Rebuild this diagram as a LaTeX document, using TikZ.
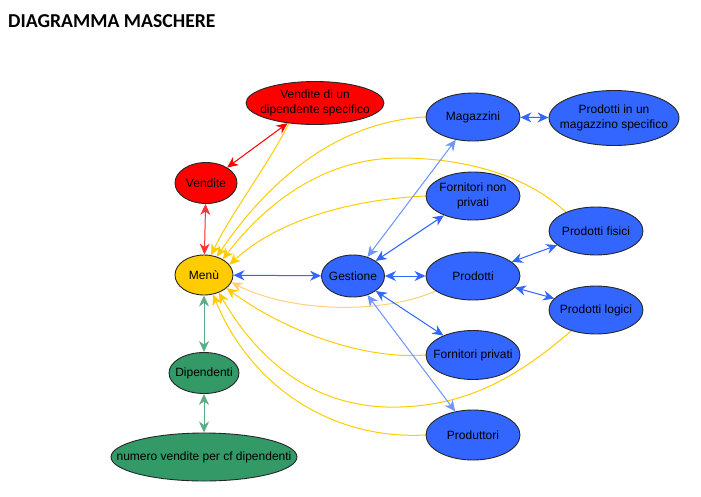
\documentclass[tikz,border=0pt]{standalone}
\usepackage{fontspec}
\setmainfont{Liberation Sans}
\newfontfamily\titlefont{Carlito}
\usetikzlibrary{shapes.geometric,arrows.meta,backgrounds}
\definecolor{cred}{HTML}{FF0000}
\definecolor{cyel}{HTML}{FFCC00}
\definecolor{cgreen}{HTML}{339966}
\definecolor{cblue}{HTML}{3366FF}
\definecolor{lred}{HTML}{FF3333}
\definecolor{lgreen}{HTML}{5CAD85}
\definecolor{lblue}{HTML}{6E94FF}
\definecolor{yline}{HTML}{FFCC00}
\definecolor{fyline}{HTML}{FFCF7A}
\begin{document}
\begin{tikzpicture}[x=1pt,y=-1pt,
  ell/.style={ellipse, draw=black!85, line width=0.9pt, inner sep=0pt},
  txt/.style={label={[align=center, font=\fontsize{12}{14.5}\selectfont, text=black, inner sep=0pt]center:#1}},
  rednode/.style={ell, fill=cred},
  yelnode/.style={ell, fill=cyel},
  grnnode/.style={ell, fill=cgreen},
  blunode/.style={ell, fill=cblue},
  arr/.style={line width=1pt, {Stealth[length=11pt,width=10pt,inset=3.5pt]}-{Stealth[length=11pt,width=10pt,inset=3.5pt]}},
  yarr/.style={draw=yline, line width=1pt, -{Stealth[length=11pt,width=10pt,inset=3.5pt]}, fill=none},
]
\useasboundingbox (0,0) rectangle (701,496);

\node[anchor=base west, font=\titlefont\bfseries\fontsize{19.7}{22}\selectfont, inner sep=0pt] (title) at (8,27) {DIAGRAMMA MASCHERE};

\node[rednode, minimum width=138pt, minimum height=43pt, txt={Vendite di un\\dipendente specifico}] (vdds) at (315,103) {};
\node[rednode, minimum width=62pt, minimum height=41pt, txt={Vendite}] (vend) at (206,183) {};
\node[yelnode, minimum width=58pt, minimum height=40pt, txt={Menù}] (menu) at (204,275) {};
\node[grnnode, minimum width=70pt, minimum height=41pt, txt={Dipendenti}] (dip) at (204,373) {};
\node[grnnode, minimum width=186pt, minimum height=48pt, txt={numero vendite per cf dipendenti}] (num) at (204,457) {};
\node[blunode, minimum width=63pt, minimum height=42pt, txt={Gestione}] (gest) at (353,276) {};
\node[blunode, minimum width=94pt, minimum height=48pt, txt={Magazzini}] (mag) at (473,117) {};
\node[blunode, minimum width=130pt, minimum height=55pt, txt={Prodotti in un\\magazzino specifico}] (pms) at (614,118) {};
\node[blunode, minimum width=94pt, minimum height=48pt, txt={Fornitori non\\privati}] (fnp) at (473,196) {};
\node[blunode, minimum width=94pt, minimum height=48pt, txt={Prodotti fisici}] (pf) at (596,231) {};
\node[blunode, minimum width=94pt, minimum height=48pt, txt={Prodotti}] (prod) at (473,276) {};
\node[blunode, minimum width=94pt, minimum height=48pt, txt={Prodotti logici}] (pl) at (596,310) {};
\node[blunode, minimum width=94pt, minimum height=49pt, txt={Fornitori privati}] (fp) at (473,355) {};
\node[blunode, minimum width=94pt, minimum height=50pt, txt={Produttori}] (produt) at (473,435) {};

\begin{pgfonlayer}{background}
% yellow curves to Menu
\draw[yarr] (vdds.218) .. controls (268,165) and (230,215) .. (menu.70);
\draw[yarr] (mag.west) .. controls (330,122) and (262,190) .. (menu.55);
\draw[yarr] (pf.148) .. controls (530,178) and (470,158) .. (400,158)
  .. controls (320,158) and (262,208) .. (menu.40);
\draw[yarr] (fnp.west) .. controls (340,200) and (272,225) .. (menu.22);
\draw[yarr, draw=fyline] (prod.202) .. controls (380,315) and (290,312) .. (menu.-15);
\draw[yarr] (fp.west) .. controls (360,360) and (280,328) .. (menu.-30);
\draw[yarr] (pl.220) .. controls (520,375) and (470,405) .. (400,407)
  .. controls (310,410) and (255,355) .. (menu.-50);
\draw[yarr] (produt.west) .. controls (330,440) and (250,385) .. (menu.-65);
% red
\draw[arr, draw=cred, fill=cred] (vend) -- (vdds);
\draw[arr, draw=lred, fill=lred] (vend) -- (menu);
% green
\draw[arr, draw=lgreen, fill=lgreen] (menu) -- (dip);
\draw[arr, draw=lgreen, fill=lgreen] (dip) -- (num);
% blue
\draw[arr, draw=cblue, fill=cblue] (menu) -- (gest);
\draw[arr, draw=lblue, fill=lblue] (gest) -- (mag);
\draw[arr, draw=cblue, fill=cblue] (gest) -- (fnp);
\draw[arr, draw=cblue, fill=cblue] (gest) -- (prod);
\draw[arr, draw=cblue, fill=cblue] (gest) -- (fp);
\draw[arr, draw=lblue, fill=lblue] (gest) -- (produt);
\draw[arr, draw=cblue, fill=cblue] (mag) -- (pms);
\draw[arr, draw=cblue, fill=cblue] (prod) -- (pf);
\draw[arr, draw=cblue, fill=cblue] (prod) -- (pl);
\end{pgfonlayer}
\end{tikzpicture}
\end{document}
